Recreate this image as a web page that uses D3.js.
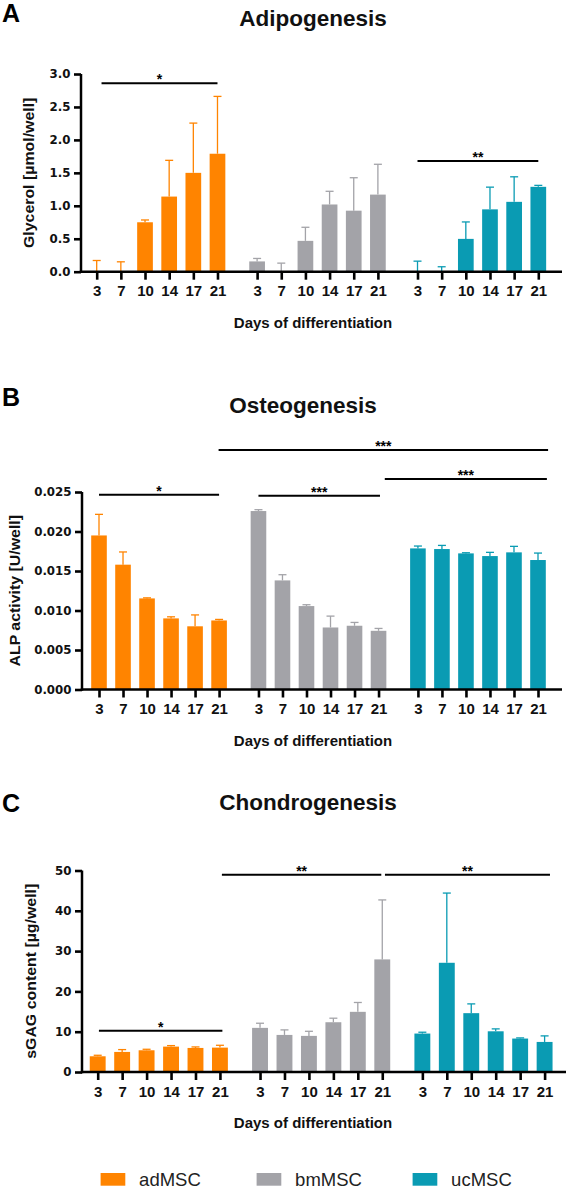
<!DOCTYPE html>
<html>
<head>
<meta charset="utf-8">
<script src="https://cdn.jsdelivr.net/npm/d3@7"></script>
<style>
  body { margin: 0; background: #fff; }
</style>
</head>
<body>
<div id="chart"></div>
<script>
// data
var days = [3, 7, 10, 14, 17, 21];
var cellTypes = ["adMSC", "bmMSC", "ucMSC"];
var typeColors = ["#ff8400", "#a3a3a8", "#0a9bb3"];

// A: glycerol [umol/well], rows = adMSC, bmMSC, ucMSC
var adipoMean = [
  [0, 0, 0.75, 1.14, 1.50, 1.79],
  [0.156, 0, 0.468, 1.02, 0.926, 1.17],
  [0, 0, 0.498, 0.946, 1.06, 1.288]
];
var adipoSD = [
  [0.17, 0.15, 0.035, 0.55, 0.755, 0.87],
  [0.045, 0.13, 0.206, 0.20, 0.50, 0.46],
  [0.16, 0.075, 0.257, 0.337, 0.38, 0.022]
];
// [from position, to position, y value, label]
var adipoSig = [
  [0.2, 5.0, 2.86, "*"],
  [13.28, 18.28, 1.68, "**"]
];

// B: ALP activity [U/well]
var osteoMean = [
  [0.0195, 0.0158, 0.01153, 0.0090, 0.0080, 0.00874],
  [0.02259, 0.01381, 0.01056, 0.00785, 0.00807, 0.00743],
  [0.01786, 0.01778, 0.01723, 0.01689, 0.01736, 0.01639]
];
var osteoSD = [
  [0.00267, 0.00161, 0.00007, 0.0002, 0.00144, 0.00013],
  [0.00017, 0.00072, 0.00017, 0.00144, 0.00042, 0.0003],
  [0.0003, 0.00046, 0.00008, 0.00047, 0.00076, 0.00088]
];
var osteoSig = [
  [0, 5.0, 0.02466, "*"],
  [6.64, 11.7, 0.02453, "***"],
  [4.98, 18.7, 0.03032, "***"],
  [11.9, 18.65, 0.02665, "***"]
];

// C: sGAG content [ug/well]
var chondroMean = [
  [3.9, 4.98, 5.39, 6.3, 5.97, 6.05],
  [10.95, 9.2, 8.96, 12.35, 14.93, 27.94],
  [9.54, 27.1, 14.6, 10.1, 8.3, 7.46]
];
var chondroSD = [
  [0.25, 0.58, 0.25, 0.25, 0.25, 0.58],
  [1.15, 1.25, 1.14, 1.0, 2.32, 14.76],
  [0.33, 17.3, 2.3, 0.6, 0.16, 1.5]
];
var chondroSig = [
  [0.05, 5.1, 10.25, "*"],
  [5.08, 11.6, 48.96, "**"],
  [11.75, 18.5, 48.96, "**"]
];

var GAP = 0.64;
var lastPos = 2 * (days.length + GAP) + days.length - 1;
var font = '"Liberation Sans", Arial, Helvetica, sans-serif';
var wideFont = '"DejaVu Sans", Verdana, sans-serif';

// layout per panel
var panels = [
  {letter: "A", title: "Adipogenesis", ylabel: "Glycerol [µmol/well]",
   mean: adipoMean, sd: adipoSD, sig: adipoSig, yMax: 3.0, yStep: 0.5, fmt: ".1f",
   letterY: 22, titleX: 313, titleY: 26, axisX: 81, axisEnd: 562,
   x0: 96.7, x1: 538.3, y0: 271.7, y1: 74, ylabX: 29},
  {letter: "B", title: "Osteogenesis", ylabel: "ALP activity [U/well]",
   mean: osteoMean, sd: osteoSD, sig: osteoSig, yMax: 0.025, yStep: 0.005, fmt: ".3f",
   letterY: 406, titleX: 303, titleY: 413, axisX: 82, axisEnd: 562,
   x0: 99, x1: 538, y0: 689.5, y1: 492, ylabX: 15},
  {letter: "C", title: "Chondrogenesis", ylabel: "sGAG content [µg/well]",
   mean: chondroMean, sd: chondroSD, sig: chondroSig, yMax: 50, yStep: 10, fmt: "d",
   letterY: 812, titleX: 308, titleY: 810, axisX: 82, axisEnd: 566,
   x0: 97.7, x1: 544.6, y0: 1072, y1: 870.5, ylabX: 31}
];

var svg = d3.select("#chart").append("svg")
  .attr("width", 567)
  .attr("height", 1196)
  .attr("font-family", font)
  .style("background", "#fff");

panels.forEach(function(p) {
  var g = svg.append("g");
  var x = d3.scaleLinear().domain([0, lastPos]).range([p.x0, p.x1]);
  var y = d3.scaleLinear().domain([0, p.yMax]).range([p.y0, p.y1]);
  var bw = (x(1) - x(0)) * 0.65;

  var rows = [];
  var positions = [];
  cellTypes.forEach(function(t, gi) {
    days.forEach(function(d, i) {
      var pos = gi * (days.length + GAP) + i;
      positions.push(pos);
      rows.push({g: gi, pos: pos, m: p.mean[gi][i], s: p.sd[gi][i]});
    });
  });

  // error bars (upper only)
  var err = g.append("g").selectAll("g").data(rows).enter().append("g")
    .attr("stroke", d => typeColors[d.g])
    .attr("stroke-width", 1.3);
  err.append("line")
    .attr("x1", d => x(d.pos)).attr("x2", d => x(d.pos))
    .attr("y1", d => y(d.m)).attr("y2", d => y(d.m + d.s));
  err.append("line")
    .attr("x1", d => x(d.pos) - 4).attr("x2", d => x(d.pos) + 4)
    .attr("y1", d => y(d.m + d.s)).attr("y2", d => y(d.m + d.s));

  // bars
  g.append("g").selectAll("rect").data(rows).enter().append("rect")
    .attr("x", d => x(d.pos) - bw / 2)
    .attr("y", d => y(d.m))
    .attr("width", bw)
    .attr("height", d => y(0) - y(d.m))
    .attr("fill", d => typeColors[d.g]);

  // y axis
  var yTicks = d3.range(0, p.yMax + p.yStep / 2, p.yStep);
  var yAxis = g.append("g")
    .attr("transform", "translate(" + p.axisX + ",0)")
    .call(d3.axisLeft(y).tickValues(yTicks).tickFormat(d3.format(p.fmt))
      .tickSize(7).tickSizeOuter(0).tickPadding(3.5));
  yAxis.select(".domain").remove();
  yAxis.append("line")
    .attr("x1", 0).attr("x2", 0)
    .attr("y1", p.y0 + 1.25).attr("y2", p.y1)
    .attr("stroke", "#000").attr("stroke-width", 2.5);
  yAxis.selectAll(".tick line").attr("stroke", "#000").attr("stroke-width", 2.6);
  yAxis.selectAll("text")
    .style("font-family", wideFont)
    .style("font-size", "11.8px").style("font-weight", "bold")
    .attr("fill", "#111");

  // x axis
  var xAxis = g.append("g")
    .attr("transform", "translate(0," + p.y0 + ")")
    .call(d3.axisBottom(x).tickValues(positions)
      .tickFormat((d, k) => days[k % days.length])
      .tickSize(8).tickSizeOuter(0).tickPadding(6));
  xAxis.select(".domain").remove();
  xAxis.append("line")
    .attr("x1", p.axisX - 1.25).attr("x2", p.axisEnd)
    .attr("y1", 0).attr("y2", 0)
    .attr("stroke", "#000").attr("stroke-width", 2.5);
  xAxis.selectAll(".tick line").attr("stroke", "#000").attr("stroke-width", 2.6);
  xAxis.selectAll("text")
    .style("font-family", font)
    .style("font-size", "15px").style("font-weight", "bold")
    .attr("fill", "#111");

  // significance lines
  var sig = g.append("g").selectAll("g").data(p.sig).enter().append("g");
  sig.append("line")
    .attr("x1", d => x(d[0])).attr("x2", d => x(d[1]))
    .attr("y1", d => y(d[2])).attr("y2", d => y(d[2]))
    .attr("stroke", "#000").attr("stroke-width", 2);
  sig.append("text")
    .attr("x", d => (x(d[0]) + x(d[1])) / 2)
    .attr("y", d => y(d[2]) + 1)
    .attr("text-anchor", "middle")
    .attr("font-size", 14).attr("font-weight", "bold")
    .text(d => d[3]);

  // labels
  g.append("text")
    .attr("x", 2).attr("y", p.letterY)
    .attr("font-size", 25).attr("font-weight", "bold")
    .text(p.letter);
  g.append("text")
    .attr("x", p.titleX).attr("y", p.titleY)
    .attr("text-anchor", "middle")
    .attr("font-size", 22.5).attr("font-weight", "bold")
    .attr("fill", "#111")
    .text(p.title);
  g.append("text")
    .attr("transform", "translate(" + p.ylabX + "," + (p.y0 + p.y1) / 2 + ") rotate(-90) scale(1.12,1)")
    .attr("text-anchor", "middle")
    .attr("dominant-baseline", "central")
    .attr("font-size", 14.2).attr("font-weight", "bold")
    .attr("fill", "#111")
    .text(p.ylabel);
  g.append("text")
    .attr("x", 313).attr("y", p.y0 + 56)
    .attr("text-anchor", "middle")
    .attr("font-size", 15).attr("font-weight", "bold")
    .attr("fill", "#111")
    .text("Days of differentiation");
});

// legend
var legend = svg.append("g").selectAll("g").data(cellTypes).enter().append("g")
  .attr("transform", (d, i) => "translate(" + (100.6 + i * 156) + ",1173)");
legend.append("rect")
  .attr("width", 24.7).attr("height", 12.7)
  .attr("fill", (d, i) => typeColors[i]);
legend.append("text")
  .attr("x", 38.5).attr("y", 12.7)
  .attr("font-size", 18.5)
  .attr("fill", "#222")
  .text(d => d);
</script>
</body>
</html>
